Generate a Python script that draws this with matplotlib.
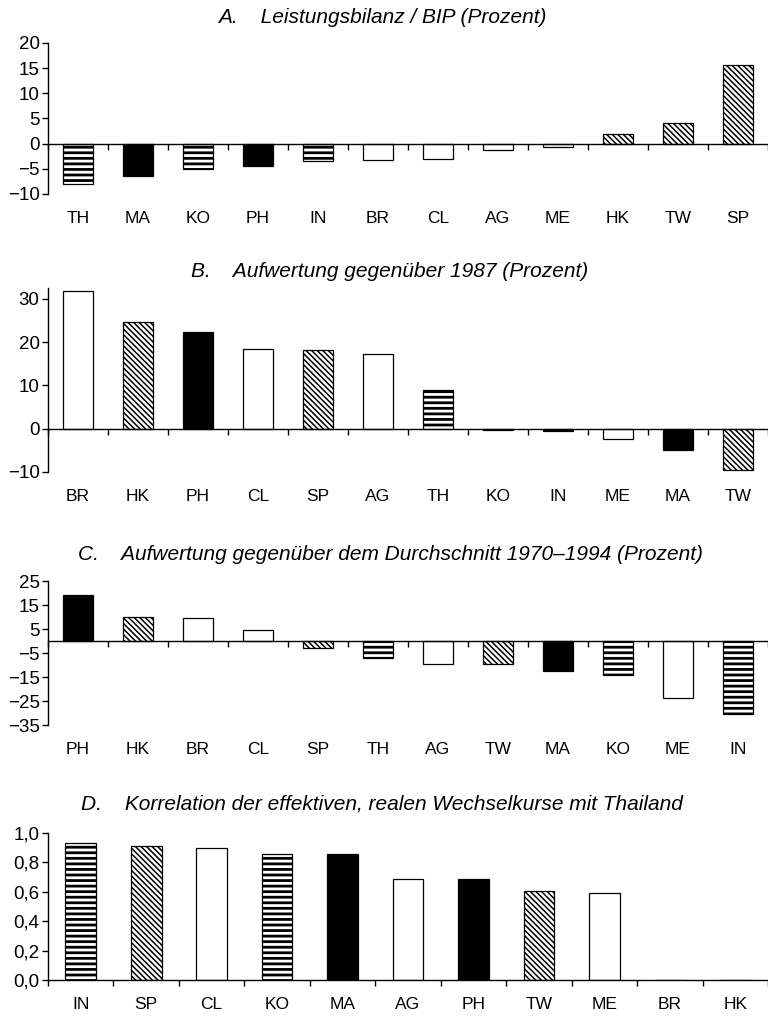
import matplotlib
matplotlib.use('Agg')
import matplotlib.pyplot as plt
import numpy as np

plt.rcParams['font.family'] = ['Liberation Sans', 'DejaVu Sans']
plt.rcParams['axes.linewidth'] = 1.0

# ---- data ----
a_cats = ['TH', 'MA', 'KO', 'PH', 'IN', 'BR', 'CL', 'AG', 'ME', 'HK', 'TW', 'SP']
a_vals = [-8.0, -6.4, -5.0, -4.4, -3.4, -3.3, -3.1, -1.2, -0.6, 2.0, 4.2, 15.7]

b_cats = ['BR', 'HK', 'PH', 'CL', 'SP', 'AG', 'TH', 'KO', 'IN', 'ME', 'MA', 'TW']
b_vals = [31.8, 24.6, 22.3, 18.5, 18.1, 17.2, 9.0, -0.4, -0.5, -2.3, -5.0, -9.6]

c_cats = ['PH', 'HK', 'BR', 'CL', 'SP', 'TH', 'AG', 'TW', 'MA', 'KO', 'ME', 'IN']
c_vals = [19.2, 10.2, 9.6, 4.7, -2.9, -6.9, -9.5, -9.4, -12.5, -14.0, -23.8, -30.3]

d_cats = ['IN', 'SP', 'CL', 'KO', 'MA', 'AG', 'PH', 'TW', 'ME', 'BR', 'HK']
d_vals = [0.93, 0.91, 0.90, 0.86, 0.86, 0.69, 0.685, 0.605, 0.59, 0.0, 0.0]

a_ticks = [-10, -5, 0, 5, 10, 15, 20]
b_ticks = [-10, 0, 10, 20, 30]
c_ticks = [-35, -25, -15, -5, 5, 15, 25]
d_ticks = [0.0, 0.2, 0.4, 0.6, 0.8, 1.0]
d_ticklabels = ['0,0', '0,2', '0,4', '0,6', '0,8', '1,0']

titles = ['A.    Leistungsbilanz / BIP (Prozent)',
          'B.    Aufwertung gegenüber 1987 (Prozent)',
          'C.    Aufwertung gegenüber dem Durchschnitt 1970\u20131994 (Prozent)',
          'D.    Korrelation der effektiven, realen Wechselkurse mit Thailand']

# fill style per country
style_of = {'TH': 'stripe', 'KO': 'stripe', 'IN': 'stripe',
            'MA': 'black', 'PH': 'black',
            'BR': 'white', 'CL': 'white', 'AG': 'white', 'ME': 'white',
            'HK': 'diag', 'TW': 'diag', 'SP': 'diag'}

W, H = 768, 1017
fig = plt.figure(figsize=(W / 100, H / 100), dpi=100)


def px_axes(top, bottom, left=48, right=768):
    return fig.add_axes([left / W, 1 - bottom / H, (right - left) / W, (bottom - top) / H])


def draw(ax, cats, vals, width, ylim, yticks, yticklabels=None, zero_spine=True):
    x = np.arange(len(cats))
    bars = ax.bar(x, vals, width, color='white', edgecolor='black', linewidth=0.9, zorder=2)
    for b, c in zip(bars, cats):
        st = style_of[c]
        if st == 'black':
            b.set_facecolor('black')
        elif st == 'stripe':
            b.set_hatch('---')
            if hasattr(b, 'set_hatch_linewidth'):
                b.set_hatch_linewidth(2.0)
        elif st == 'diag':
            b.set_hatch('\\' * 6)
            if hasattr(b, 'set_hatch_linewidth'):
                b.set_hatch_linewidth(1.1)
    ax.set_xlim(-0.5, len(cats) - 0.5)
    ax.set_ylim(*ylim)
    ax.set_yticks(yticks)
    if yticklabels is not None:
        ax.set_yticklabels(yticklabels)
    ax.spines['top'].set_visible(False)
    ax.spines['right'].set_visible(False)
    if zero_spine:
        ax.spines['bottom'].set_position(('data', 0))
    ax.spines['bottom'].set_zorder(3)
    ax.set_xticks(np.arange(len(cats) + 1) - 0.5)
    ax.tick_params(axis='x', labelbottom=False, direction='out', length=4, width=1)
    ax.tick_params(axis='y', direction='out', length=4, width=1, labelsize=13.5, pad=2)
    sec = ax.secondary_xaxis('bottom')
    sec.set_xticks(x)
    sec.set_xticklabels(cats)
    sec.tick_params(length=0, pad=12, labelsize=12.5)
    sec.spines['bottom'].set_visible(False)


axA = px_axes(43, 194)
draw(axA, a_cats, a_vals, 0.5, (-10, 20), a_ticks)
axB = px_axes(288, 472)
draw(axB, b_cats, b_vals, 0.5, (-10, 32.5), b_ticks)
axC = px_axes(581, 725)
draw(axC, c_cats, c_vals, 0.5, (-35, 25), c_ticks)
axD = px_axes(833, 980)
draw(axD, d_cats, d_vals, 0.47, (0, 1.0), d_ticks, d_ticklabels, zero_spine=False)

title_pos = [(382, 23), (390, 277), (390, 560), (382, 810)]
for t, (tx, ty) in zip(titles, title_pos):
    fig.text(tx / W, 1 - ty / H, t, ha='center', va='baseline', style='italic', fontsize=15)

fig.savefig('out.png', dpi=100)
